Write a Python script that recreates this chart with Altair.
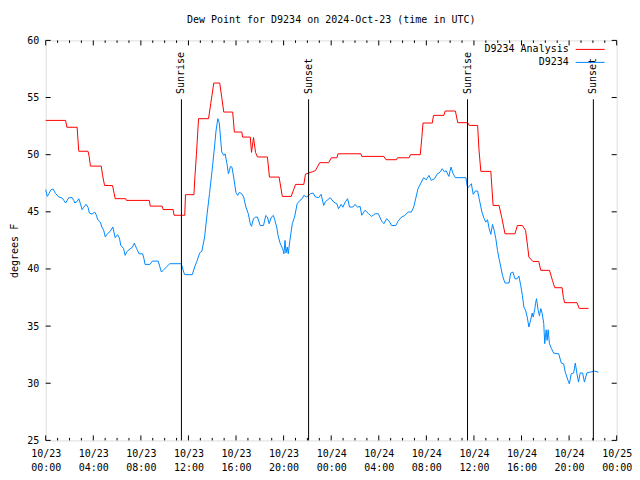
import altair as alt
import pandas as pd

# ---- data (hours since 2024-10-23 00:00 UTC, dew point in degrees F) ----
red_hours = [0.0, 1.67, 1.78, 2.64, 2.78, 3.56, 3.66, 3.76, 4.67, 4.78, 4.95, 5.62, 5.84, 6.73, 6.79,
             8.71, 8.79, 9.79, 9.87, 10.71, 10.79, 11.69, 11.75, 12.46, 12.54, 12.67, 12.85, 13.69,
             13.88, 14.13, 14.63, 14.80, 14.97, 15.72, 15.86, 16.49, 16.55, 17.20, 17.30, 17.47,
             17.64, 17.80, 18.64, 18.81, 19.62, 19.89, 20.64, 21.0, 21.70, 21.84, 22.40, 22.67,
             23.04, 23.79, 24.01, 24.48, 24.57, 26.49, 26.57, 28.43, 28.60, 29.49, 29.57, 30.55,
             30.66, 31.49, 31.62, 31.72, 32.50, 32.60, 33.47, 33.58, 34.44, 34.64, 35.48, 35.61,
             36.31, 36.42, 36.58, 37.42, 37.61, 38.11, 38.34, 38.61, 39.45, 39.65, 40.07, 40.34,
             40.51, 40.62, 40.95, 41.45, 41.62, 42.35, 42.60, 42.79, 43.41, 43.52, 43.62, 44.66,
             44.85, 45.63]
red_vals = [53.0, 53.0, 52.4, 52.4, 50.3, 50.3, 49.8, 49.0, 49.0, 48.2, 47.3, 47.3, 46.15, 46.15, 46.0,
            46.0, 45.5, 45.5, 45.2, 45.2, 44.7, 44.7, 46.5, 46.5, 48.0, 50.0, 53.15, 53.15,
            54.5, 56.27, 56.27, 55.0, 53.73, 53.73, 51.98, 51.98, 51.54, 51.54, 50.2, 51.5,
            50.2, 49.8, 49.8, 48.04, 48.04, 46.35, 46.35, 47.4, 47.4, 48.3, 48.5, 48.6,
            49.3, 49.3, 49.73, 49.73, 50.08, 50.08, 49.85, 49.85, 49.56, 49.56, 49.73, 49.73,
            50.0, 50.0, 51.5, 52.77, 52.77, 53.44, 53.44, 53.82, 53.82, 52.8, 52.8, 52.56,
            52.56, 50.5, 48.54, 48.54, 45.56, 45.56, 44.5, 43.08, 43.08, 43.8, 43.8, 43.37,
            42.0, 41.04, 40.66, 40.66, 39.88, 39.88, 39.0, 38.36, 38.36, 37.5, 37.05, 37.05,
            36.55, 36.55]

blue_hours = [0.0, 0.13, 0.28, 0.42, 0.61, 0.83, 1.11, 1.39, 1.53, 1.67, 1.94, 2.22, 2.36, 2.45, 2.64,
              2.78, 2.92, 3.06, 3.20, 3.39, 3.56, 3.67, 3.89, 4.12, 4.22, 4.39, 4.59, 4.72, 4.87,
              5.01, 5.20, 5.43, 5.64, 5.84, 6.04, 6.20, 6.31, 6.54, 6.68, 6.81, 7.10, 7.29, 7.45,
              7.65, 7.85, 8.15, 8.26, 8.35, 8.76, 8.98, 9.46, 9.60, 9.73, 9.93, 10.15, 10.43, 11.40,
              11.60, 11.69, 12.32, 12.52, 12.74, 12.94, 13.13, 13.36, 13.57, 13.77, 13.99, 14.19,
              14.32, 14.47, 14.59, 14.69, 14.80, 14.97, 15.08, 15.24, 15.36, 15.53, 15.66, 15.80,
              15.99, 16.14, 16.28, 16.47, 16.64, 16.83, 17.03, 17.20, 17.30, 17.47, 17.66, 17.80,
              18.03, 18.31, 18.50, 18.64, 18.78, 18.97, 19.14, 19.25, 19.42, 19.53, 19.70, 19.92,
              20.03, 20.12, 20.20, 20.31, 20.39, 20.53, 20.73, 20.92, 21.14, 21.37, 21.56, 21.70,
              21.92, 22.12, 22.25, 22.48, 22.67, 22.95, 23.15, 23.37, 23.52, 23.65, 23.92, 24.21,
              24.48, 24.62, 24.84, 24.98, 25.18, 25.38, 25.54, 25.82, 26.01, 26.21, 26.43, 26.57,
              26.84, 27.13, 27.40, 27.68, 27.96, 28.24, 28.43, 28.66, 28.93, 29.07, 29.43, 29.63,
              29.91, 30.18, 30.47, 30.74, 30.94, 31.10, 31.30, 31.58, 31.77, 31.99, 32.22, 32.41,
              32.69, 32.89, 33.17, 33.33, 33.52, 33.66, 33.89, 34.00, 34.08, 34.22, 34.44, 35.33,
              35.39, 35.48, 35.67, 35.78, 35.94, 36.11, 36.31, 36.44, 36.67, 36.86, 37.00, 37.14,
              37.28, 37.42, 37.56, 37.70, 37.84, 37.98, 38.11, 38.26, 38.40, 38.53, 38.62, 38.95,
              39.09, 39.28, 39.45, 39.63, 39.78, 39.93, 40.07, 40.20, 40.34, 40.48, 40.62, 40.76,
              40.90, 40.98, 41.12, 41.18, 41.26, 41.40, 41.51, 41.62, 41.74, 41.87, 41.95, 42.07,
              42.15, 42.24, 42.35, 42.52, 42.70, 43.12, 43.35, 43.54, 43.68, 43.91, 44.02, 44.18,
              44.38, 44.52, 44.66, 44.79, 44.93, 45.13, 45.29, 45.49, 45.77, 46.13, 46.47]
blue_vals = [46.94, 46.35, 46.6, 46.9, 47.0, 46.6, 46.3, 46.2, 46.0, 45.77, 46.24, 46.24, 46.0, 45.77, 45.9,
             46.15, 45.7, 45.19, 45.4, 45.65, 45.4, 44.9, 44.8, 44.98, 44.8, 44.3, 44.1, 43.67, 43.4,
             42.8, 43.1, 43.3, 43.67, 42.74, 43.0, 42.7, 42.06, 41.8, 41.19, 41.5, 41.77, 41.9, 42.26,
             41.77, 41.33, 41.33, 40.9, 40.4, 40.4, 40.69, 40.69, 40.17, 39.73, 39.95, 40.17, 40.46, 40.46,
             39.73, 39.5, 39.5, 40.17, 40.75, 41.4, 41.56, 42.8, 44.83, 46.59, 48.63, 50.66,
             52.1, 53.15, 52.8, 51.54, 50.23, 49.94, 50.08, 49.2, 48.33, 48.97, 48.9, 48.04,
             46.7, 46.44, 46.7, 46.59, 46.3, 45.42, 44.84, 43.96, 43.73, 44.4, 44.54, 44.54,
             43.8, 43.8, 44.68, 44.54, 43.96, 44.54, 44.68, 44.3, 43.67, 42.94, 42.27, 41.77,
             41.33, 42.5, 41.4, 41.92, 41.33, 42.5, 43.96, 44.54, 45.71, 46.0, 46.15, 46.44,
             46.3, 46.44, 46.59, 46.64, 46.3, 46.24, 46.53, 45.56, 45.9, 46.0, 46.24, 45.85,
             45.7, 45.27, 45.65, 45.4, 45.85, 46.15, 45.42, 45.42, 45.65, 45.4, 45.48, 44.7,
             45.13, 44.85, 44.6, 44.83, 44.83, 44.19, 43.96, 44.4, 44.1, 43.8, 43.8, 44.19,
             44.54, 44.68, 44.98, 44.98, 45.42, 46.15, 47.03, 47.6, 47.99, 47.8, 48.19, 47.75,
             47.9, 48.28, 48.5, 48.77, 48.5, 48.6, 48.1, 48.6, 48.92, 48.4, 47.99, 47.99,
             47.46, 47.11, 47.3, 47.46, 46.53, 46.82, 46.82, 46.15, 44.98, 44.4, 44.1, 44.31,
             43.52, 43.03, 43.9, 43.38, 42.65, 41.62, 40.9, 40.17, 39.44, 39.0, 38.77, 38.77,
             39.64, 39.73, 39.14, 39.14, 39.38, 38.57, 37.69, 36.67, 36.38, 35.79, 34.92, 35.5,
             36.14, 35.79, 36.53, 37.0, 37.4, 36.38, 35.9, 36.53, 36.09, 35.21, 33.46, 34.68,
             33.75, 34.68, 33.46, 33.02, 32.64, 32.58, 31.76, 31.7, 30.97, 30.24, 29.95, 30.83,
             30.9, 31.76, 30.83, 30.1, 30.9, 30.9, 30.1, 30.9, 30.97, 31.06, 30.97]

sun_labels = ["Sunrise", "Sunset", "Sunrise", "Sunset"]
sun_hours = [11.41, 22.10, 35.46, 46.04]
sun_line_top = 54.85
sun_text_start = 55.3

x_label_hours = list(range(0, 49, 4))
x_minor_hours = [h for h in range(0, 49) if h % 4 != 0]
y_ticks = [25, 30, 35, 40, 45, 50, 55, 60]

series_names = ["D9234 Analysis", "D9234"]
series_colors = ["#ff0000", "#0088ff"]

FONT = "DejaVu Sans Mono"
W, H = 571, 400

red_df = pd.DataFrame({"h": red_hours, "v": red_vals})
blue_df = pd.DataFrame({"h": blue_hours, "v": blue_vals})
sun_df = pd.DataFrame({"h": sun_hours, "label": sun_labels,
                       "top": [sun_line_top] * 4, "bottom": [25] * 4,
                       "tstart": [sun_text_start] * 4})

xs = alt.Scale(domain=[0, 48], nice=False, zero=False)
ys = alt.Scale(domain=[25, 60], nice=False, zero=False)

x_axis = alt.Axis(values=x_label_hours, ticks=False, domain=False, grid=False,
                  labelExpr="['10/' + (23 + floor(datum.value / 24)), format(datum.value % 24, '02d') + ':00']",
                  labelFont=FONT, labelFontSize=10, labelColor="black", labelPadding=8,
                  labelLineHeight=14, labelFlush=False, labelOverlap=False, title=None)
y_axis = alt.Axis(values=y_ticks, ticks=False, domain=False, grid=False,
                  labelFont=FONT, labelFontSize=10, labelColor="black", labelPadding=7,
                  title="degrees F", titleFont=FONT, titleFontSize=10, titleFontWeight="normal",
                  titleColor="black", titleAngle=270, titleX=-31, titleY=210,
                  titleAlign="center", titleBaseline="middle")

base_red = alt.Chart(red_df).mark_line(color=series_colors[0], strokeWidth=1).encode(
    x=alt.X("h:Q", scale=xs, axis=x_axis),
    y=alt.Y("v:Q", scale=ys, axis=y_axis),
)
blue = alt.Chart(blue_df).mark_line(color=series_colors[1], strokeWidth=1).encode(
    x=alt.X("h:Q", scale=xs), y=alt.Y("v:Q", scale=ys))

sun_rules = alt.Chart(sun_df).mark_rule(color="black", strokeWidth=1).encode(
    x=alt.X("h:Q", scale=xs), y=alt.Y("bottom:Q", scale=ys), y2="top:Q")
sun_text = alt.Chart(sun_df).mark_text(angle=270, align="left", baseline="middle",
                                       font=FONT, fontSize=10, color="black").encode(
    x=alt.X("h:Q", scale=xs), y=alt.Y("tstart:Q", scale=ys), text="label:N")

# gnuplot-style inward ticks (bottom/top, left/right)
xmaj = pd.DataFrame({"h": x_label_hours})
xmin = pd.DataFrame({"h": x_minor_hours})
ydf = pd.DataFrame({"v": y_ticks})
tick_layers = []
for df, ln in [(xmaj, 5), (xmin, 2.5)]:
    tick_layers.append(alt.Chart(df).mark_rule(color="black", strokeWidth=1).encode(
        x=alt.X("h:Q", scale=xs), y=alt.value(H), y2=alt.value(H - ln)))
    tick_layers.append(alt.Chart(df).mark_rule(color="black", strokeWidth=1).encode(
        x=alt.X("h:Q", scale=xs), y=alt.value(0), y2=alt.value(ln)))
tick_layers.append(alt.Chart(ydf).mark_rule(color="black", strokeWidth=1).encode(
    y=alt.Y("v:Q", scale=ys), x=alt.value(0), x2=alt.value(5)))
tick_layers.append(alt.Chart(ydf).mark_rule(color="black", strokeWidth=1).encode(
    y=alt.Y("v:Q", scale=ys), x=alt.value(W), x2=alt.value(W - 5)))

# gnuplot-style key (text left of the line sample)
leg_layers = []
for i, (name, col) in enumerate(zip(series_names, series_colors)):
    yy = 9 + 13 * i
    leg_layers.append(alt.Chart(pd.DataFrame({"t": [name]})).mark_text(
        align="right", baseline="middle", font=FONT, fontSize=10, color="black").encode(
        text="t:N", x=alt.value(W - 48), y=alt.value(yy)))
    leg_layers.append(alt.Chart(pd.DataFrame({"t": [name]})).mark_rule(
        color=col, strokeWidth=1).encode(x=alt.value(W - 41), x2=alt.value(W - 12), y=alt.value(yy)))

chart = alt.layer(base_red, blue, sun_rules, sun_text, *tick_layers, *leg_layers).properties(
    width=W, height=H,
    title=alt.TitleParams("Dew Point for D9234 on 2024-Oct-23 (time in UTC)",
                          font=FONT, fontSize=10, fontWeight="normal", color="black",
                          anchor="middle", offset=10),
    autosize=alt.AutoSizeParams(type="none"),
    padding={"left": 37.7, "top": 32.4, "right": 15, "bottom": 31},
).configure_view(stroke="black", strokeWidth=1).configure(background="white")

chart.save("out.html", embed_options={"renderer": "svg", "actions": False})
